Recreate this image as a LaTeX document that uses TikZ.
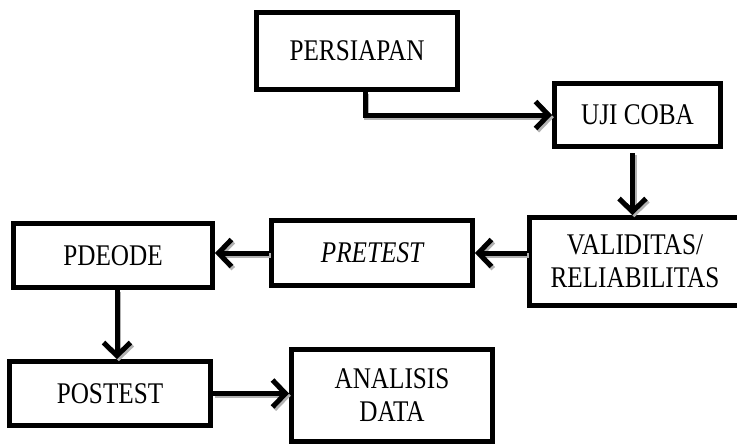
\documentclass[tikz,border=0pt]{standalone}
\usepackage{fontspec}
\setmainfont{Liberation Serif}[FakeStretch=0.84]
\usetikzlibrary{arrows.meta}
\begin{document}
\begin{tikzpicture}[x=1pt,y=-1pt,
  box/.style={draw, rectangle, line width=5pt, inner sep=0pt, align=center,
    font=\fontsize{30}{33}\selectfont},
  arr/.style={line width=5pt, -{Straight Barb[length=13pt,width=27pt,line width=5pt]}},
  arrshadow/.style={arr, draw=gray!60, transform canvas={shift={(1.8pt,-2.2pt)}}}]
\useasboundingbox (0,0) rectangle (737,445);
\clip (0,0) rectangle (737,445);
\node[box, minimum width=201pt, minimum height=77pt] (P) at (357,51) {PERSIAPAN};
\node[box, minimum width=166pt, minimum height=63pt] (U) at (637.5,115) {UJI COBA};
\node[box, minimum width=211pt, minimum height=88pt] (V) at (635,261.5) {VALIDITAS/\\RELIABILITAS};
\node[box, minimum width=201pt, minimum height=65pt] (R) at (372,253) {\itshape PRETEST};
\node[box, minimum width=199pt, minimum height=64pt] (D) at (113,255.5) {PDEODE};
\node[box, minimum width=201pt, minimum height=64pt] (O) at (110,393.5) {POSTEST};
\node[box, minimum width=201pt, minimum height=92pt] (A) at (392,395.5) {ANALISIS\\DATA};
\foreach \st in {arrshadow,arr}{
  \draw[\st] ([xshift=8pt]P.south) |- (U.west);
  \draw[\st, shorten <=4pt] ([xshift=-5pt]U.south) -- ([xshift=-5pt]U.south |- V.north);
  \draw[\st] (R.east -| V.west) -- (R.east);
  \draw[\st] (R.west) -- (R.west -| D.east);
  \draw[\st] ([xshift=4pt]D.south) -- ([xshift=4pt]D.south |- O.north);
  \draw[\st] (O.east) -- (O.east -| A.west);
}
\end{tikzpicture}
\end{document}
